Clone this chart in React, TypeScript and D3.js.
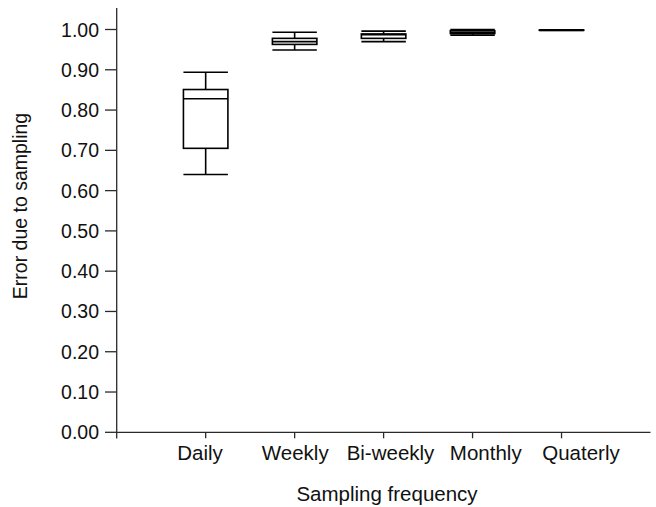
import { useRef, useEffect } from "react";
import * as d3 from "d3";

// box plot summary per sampling frequency
const categories = ["Daily", "Weekly", "Bi-weekly", "Monthly", "Quaterly"];
const whiskerLow = [0.64, 0.949, 0.97, 0.986, 0.9975];
const quartile1 = [0.705, 0.963, 0.978, 0.99, 0.998];
const medians = [0.828, 0.97, 0.987, 0.993, 0.998];
const quartile3 = [0.851, 0.978, 0.989, 0.997, 0.9985];
const whiskerHigh = [0.894, 0.993, 0.996, 1.0, 0.999];
const yTicks = [0, 0.1, 0.2, 0.3, 0.4, 0.5, 0.6, 0.7, 0.8, 0.9, 1.0];

function App() {
  const svgRef = useRef<SVGSVGElement>(null);

  useEffect(() => {
    const w = 656;
    const h = 507;
    const svg = d3.select(svgRef.current).attr("width", w).attr("height", h);
    svg.selectAll("*").remove();

    // scales
    const x = d3.scalePoint().domain(categories).range([116.7, 650.5]).padding(1);
    const xLabel = d3.scalePoint().domain(categories).range([200, 581]);
    const y = d3.scaleLinear().domain([0, 1]).range([432.3, 29.5]);
    const boxW = x.step() * 0.5;

    const axisColor = "#2a2a2a";
    const font = "'Liberation Sans', Arial, sans-serif";

    // y axis
    svg.append("line")
      .attr("x1", 116.7).attr("x2", 116.7)
      .attr("y1", 8).attr("y2", 438.5)
      .attr("stroke", axisColor).attr("stroke-width", 1.3);
    svg.selectAll(".ytick").data(yTicks).join("line")
      .attr("x1", 105).attr("x2", 116.7)
      .attr("y1", (d) => y(d)).attr("y2", (d) => y(d))
      .attr("stroke", axisColor).attr("stroke-width", 1.3);
    svg.selectAll(".ylab").data(yTicks).join("text")
      .text((d) => d3.format(".2f")(d))
      .attr("x", 99).attr("y", (d) => y(d))
      .attr("dy", "0.36em")
      .attr("text-anchor", "end")
      .style("font-family", font).style("font-size", "19.5px").attr("fill", "#111");

    // x axis
    svg.append("line")
      .attr("x1", 116.7).attr("x2", 650.5)
      .attr("y1", y(0)).attr("y2", y(0))
      .attr("stroke", axisColor).attr("stroke-width", 1.3);
    svg.selectAll(".xtick").data(categories).join("line")
      .attr("x1", (d) => x(d)!).attr("x2", (d) => x(d)!)
      .attr("y1", y(0)).attr("y2", y(0) + 6)
      .attr("stroke", axisColor).attr("stroke-width", 1.3);
    svg.selectAll(".xlab").data(categories).join("text")
      .text((d) => d)
      .attr("x", (d) => xLabel(d)!).attr("y", 459.7)
      .attr("text-anchor", "middle")
      .style("font-family", font).style("font-size", "20.5px").attr("fill", "#111");

    // axis titles
    svg.append("text")
      .text("Sampling frequency")
      .attr("x", 387).attr("y", 501)
      .attr("text-anchor", "middle")
      .style("font-family", font).style("font-size", "20.5px").attr("fill", "#111");
    svg.append("text")
      .text("Error due to sampling")
      .attr("transform", "translate(27,206) rotate(-90)")
      .attr("text-anchor", "middle")
      .style("font-family", font).style("font-size", "19.5px").attr("fill", "#111");

    // boxes
    const boxes = svg.selectAll(".box").data(categories).join("g");
    boxes.each(function (d, i) {
      const g = d3.select(this);
      const cx = x(d)!;
      const stroke = { color: "#000", width: 1.6 };
      // stems
      g.append("line")
        .attr("x1", cx).attr("x2", cx)
        .attr("y1", y(whiskerHigh[i])).attr("y2", y(quartile3[i]))
        .attr("stroke", stroke.color).attr("stroke-width", stroke.width);
      g.append("line")
        .attr("x1", cx).attr("x2", cx)
        .attr("y1", y(quartile1[i])).attr("y2", y(whiskerLow[i]))
        .attr("stroke", stroke.color).attr("stroke-width", stroke.width);
      // caps
      [whiskerHigh[i], whiskerLow[i]].forEach((v) => {
        g.append("line")
          .attr("x1", cx - boxW / 2).attr("x2", cx + boxW / 2)
          .attr("y1", y(v)).attr("y2", y(v))
          .attr("stroke", stroke.color).attr("stroke-width", stroke.width);
      });
      // box
      g.append("rect")
        .attr("x", cx - boxW / 2)
        .attr("y", y(quartile3[i]))
        .attr("width", boxW)
        .attr("height", y(quartile1[i]) - y(quartile3[i]))
        .attr("fill", "#fff")
        .attr("stroke", stroke.color).attr("stroke-width", stroke.width);
      // median
      g.append("line")
        .attr("x1", cx - boxW / 2).attr("x2", cx + boxW / 2)
        .attr("y1", y(medians[i])).attr("y2", y(medians[i]))
        .attr("stroke", stroke.color).attr("stroke-width", stroke.width);
    });
  }, []);

  return (
    <svg
      ref={svgRef}
      style={{ position: "absolute", left: 0, top: 0, background: "#fff" }}
    ></svg>
  );
}

export default App;
